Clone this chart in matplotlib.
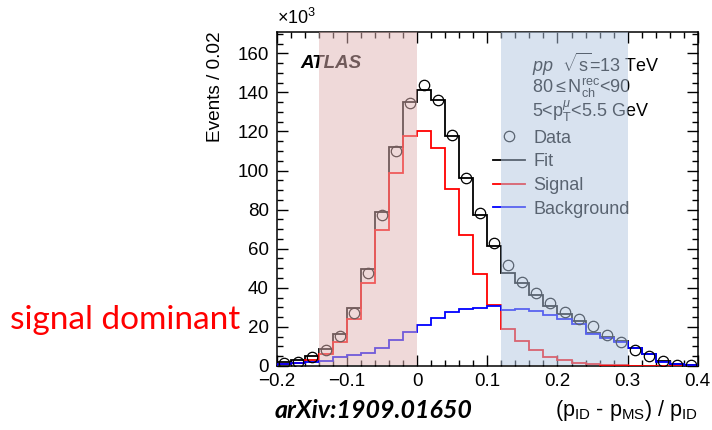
import matplotlib
matplotlib.use('Agg')
import matplotlib.pyplot as plt
from matplotlib.ticker import MultipleLocator, FuncFormatter
from matplotlib.lines import Line2D
import numpy as np

plt.rcParams['font.family'] = ['Liberation Sans', 'DejaVu Sans']
plt.rcParams['mathtext.fontset'] = 'custom'
plt.rcParams['mathtext.rm'] = 'Liberation Sans'
plt.rcParams['mathtext.it'] = 'Liberation Sans:italic'
plt.rcParams['mathtext.bf'] = 'Liberation Sans:bold'

# binning of (p_ID - p_MS) / p_ID, 30 bins of 0.02
bin_edges = np.round(np.arange(-0.2, 0.4001, 0.02), 3)
bin_centers = 0.5 * (bin_edges[:-1] + bin_edges[1:])

# values in units of 10^3 events
data = [1.4, 2.2, 4.4, 8.2, 15.4, 27.0, 47.5, 77.1, 110.0, 134.5,
        143.9, 136.0, 118.0, 96.2, 78.3, 63.1, 51.6, 43.1, 37.4, 32.0,
        27.5, 24.1, 20.3, 15.7, 12.1, 8.4, 5.1, 2.4, 0.7, 0.7]
signal = [1.0, 1.5, 3.0, 6.0, 12.1, 23.9, 42.7, 69.4, 98.5, 117.6,
          120.2, 111.6, 90.3, 67.2, 47.2, 31.0, 19.0, 13.0, 8.0, 4.6,
          2.9, 1.5, 0.9, 0.5, 0.3, 0.2, 0.2, 0.2, 0.2, 0.2]
background = [1.0, 1.5, 2.0, 2.5, 4.4, 5.5, 6.8, 9.4, 13.3, 17.3,
              21.2, 24.6, 27.4, 29.1, 29.9, 30.5, 28.5, 29.2, 28.2, 26.0,
              23.9, 21.7, 16.1, 14.5, 12.3, 9.1, 6.0, 2.1, 0.9, 0.5]
fit = list(np.array(signal) + np.array(background))

signal_region = (-0.14, 0.0)
background_region = (0.12, 0.30)

fig = plt.figure(figsize=(7.12, 4.30), dpi=100)
ax = fig.add_axes([0.389, 0.149, 0.591, 0.777])

ax.stairs(fit, bin_edges, color='black', lw=1.3, zorder=3)
ax.stairs(signal, bin_edges, color='red', lw=1.3, zorder=3)
ax.stairs(background, bin_edges, color='blue', lw=1.3, zorder=3)
ax.plot(bin_centers, data, 'o', mfc='none', mec='black', ms=7.5, mew=0.9, zorder=4)

# shaded regions drawn on top (lines and text show through faded)
ax.axvspan(*signal_region, ymin=0.004, ymax=1, color=(225/255, 181/255, 181/255),
           alpha=0.5, lw=0, zorder=10)
ax.axvspan(*background_region, ymin=0.004, ymax=1, color=(179/255, 199/255, 225/255),
           alpha=0.5, lw=0, zorder=10)

ax.set_xlim(-0.2, 0.4)
ax.set_ylim(0, 171)
ax.xaxis.set_major_locator(MultipleLocator(0.1))
ax.xaxis.set_minor_locator(MultipleLocator(0.02))
ax.yaxis.set_major_locator(MultipleLocator(20))
ax.yaxis.set_minor_locator(MultipleLocator(5))
ax.xaxis.set_major_formatter(FuncFormatter(lambda v, p: '0' if abs(v) < 1e-9 else ('%.1f' % v).replace('-', '\u2212')))
ax.tick_params(which='both', direction='in', top=True, right=True, labelsize=13.5, width=1)
ax.tick_params(which='major', length=8)
ax.tick_params(which='minor', length=4)
ax.tick_params(axis='y', pad=6)
ax.tick_params(axis='x', pad=5)
for s in ax.spines.values():
    s.set_linewidth(1.1)

ax.set_ylabel('Events / 0.02', fontsize=13.7, ha='right')
ax.yaxis.set_label_coords(-0.125, 1.0)
ax.text(0.0, 1.012, r'$\times$10$^{3}$', transform=ax.transAxes, fontsize=13, va='bottom')
fig.text(0.980, 0.045, r'(p$_{\mathrm{ID}}$ - p$_{\mathrm{MS}}$) / p$_{\mathrm{ID}}$',
         fontsize=15.5, ha='right', va='center')

ax.text(0.055, 0.905, 'ATLAS', transform=ax.transAxes, fontsize=13.5,
        fontweight='bold', fontstyle='italic', va='center', zorder=3)

info = [r'$\mathit{pp}$  $\sqrt{\mathrm{s}}$=13 TeV',
        r'80$\leq$N$_{\mathrm{ch}}^{\mathrm{rec}}$<90',
        r'5<p$_{\mathrm{T}}^{\mu}$<5.5 GeV']
for i, line in enumerate(info):
    ax.text(0.607, 0.902 - i * 0.0704, line, transform=ax.transAxes,
            fontsize=13, va='center', zorder=3)

handles = [Line2D([], [], ls='none', marker='o', mfc='none', mec='black', ms=7.5, mew=0.9),
           Line2D([], [], color='black', lw=1.3),
           Line2D([], [], color='red', lw=1.3),
           Line2D([], [], color='blue', lw=1.3)]
leg = ax.legend(handles, ['Data', 'Fit', 'Signal', 'Background'], loc='upper left',
                bbox_to_anchor=(0.513, 0.707), frameon=False, fontsize=13,
                handlelength=1.8, handletextpad=0.45, labelspacing=0.37,
                borderpad=0, borderaxespad=0)
leg.set_zorder(3)

fig.text(0.014, 0.256, 'signal dominant', color='red', fontsize=24,
         family=['Lato', 'DejaVu Sans'], va='center')
fig.text(0.386, 0.045, 'arXiv:1909.01650', fontsize=18,
         family=['Lato', 'DejaVu Sans'], fontweight='bold', fontstyle='italic', va='center')

fig.savefig('out.png', dpi=100)
